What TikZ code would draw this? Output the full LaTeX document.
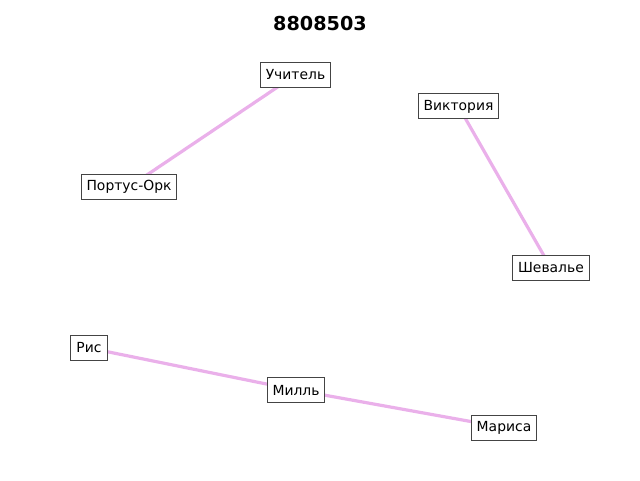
\documentclass[tikz,border=0pt]{standalone}
\usepackage{fontspec}
\setmainfont{DejaVu Sans}
\definecolor{edgecol}{RGB}{234,176,234}
\definecolor{boxcol}{RGB}{68,68,68}
\tikzset{
  nbox/.style={draw=boxcol, line width=1pt, fill=white, inner xsep=5.5pt, inner ysep=0pt, minimum height=25pt, font=\fontsize{13.9}{16}\selectfont},
  link/.style={draw=edgecol, line width=3.2pt}
}
\begin{document}
\begin{tikzpicture}[x=1pt,y=1pt]
\useasboundingbox (0,0) rectangle (640,480);
\node[font=\bfseries\fontsize{19.2}{22}\selectfont] (title) at (320,456) {8808503};
\coordinate (cU) at (295.5,405);
\coordinate (cV) at (458.5,373.5);
\coordinate (cP) at (129,293);
\coordinate (cS) at (551,212);
\coordinate (cR) at (89,132);
\coordinate (cM) at (296,90);
\coordinate (cMa) at (504,52.5);
\draw[link] (cU) -- (cP);
\draw[link] (cV) -- (cS);
\draw[link] (cR) -- (cM);
\draw[link] (cM) -- (cMa);
\node[nbox] (u) at (cU) {Учитель};
\node[nbox] (v) at (cV) {Виктория};
\node[nbox] (p) at (cP) {Портус-Орк};
\node[nbox] (s) at (cS) {Шевалье};
\node[nbox] (r) at (cR) {Рис};
\node[nbox] (m) at (cM) {Милль};
\node[nbox] (ma) at (cMa) {Мариса};
\end{tikzpicture}
\end{document}
